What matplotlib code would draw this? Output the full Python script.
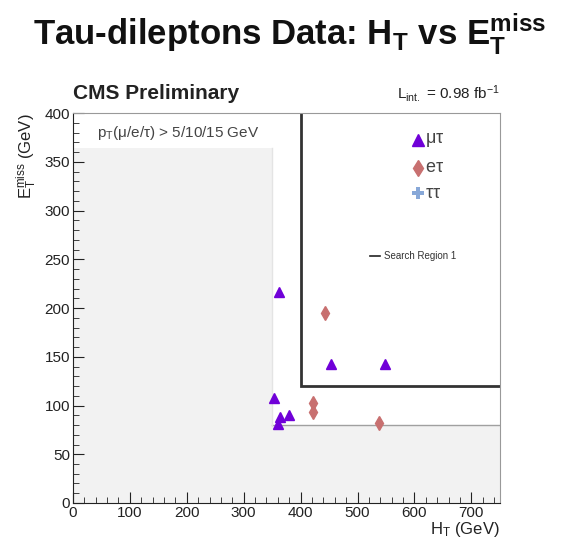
import matplotlib.pyplot as plt
from matplotlib.ticker import MultipleLocator

plt.rcParams['font.family'] = ['Liberation Sans', 'DejaVu Sans']
plt.rcParams['mathtext.fontset'] = 'custom'
plt.rcParams['mathtext.rm'] = 'Liberation Sans'
plt.rcParams['mathtext.it'] = 'Liberation Sans'
plt.rcParams['mathtext.bf'] = 'Liberation Sans:bold'

# mu-tau events (HT, MET) in GeV
mutau_ht = [362, 454, 549, 354, 380, 364, 360]
mutau_met = [216, 143, 143, 108, 90, 88, 81]
# e-tau events
etau_ht = [443, 421, 421, 537]
etau_met = [195, 103, 93, 82]

# preselection and search region
presel_ht, presel_met = 350, 80
sr_ht, sr_met = 400, 120
x_max, y_max = 750, 400

fig = plt.figure(figsize=(5.61, 5.44), dpi=100)
ax = fig.add_axes([0.130, 0.0754, 0.761, 0.7166])

# shaded region outside preselection
ax.fill_between([0, presel_ht], 0, 364, color='#f2f2f2', lw=0, zorder=0)
ax.fill_between([presel_ht, x_max], 0, presel_met, color='#f2f2f2', lw=0, zorder=0)
ax.plot([presel_ht, x_max], [presel_met, presel_met], color='#a0a0a0', lw=1, zorder=1)
ax.plot([presel_ht, presel_ht], [presel_met, 364], color='#e4e4e4', lw=1, zorder=1)

# search region 1
ax.plot([sr_ht, sr_ht, x_max], [y_max, sr_met, sr_met], color='#333333', lw=2, zorder=2,
        solid_joinstyle='miter')

ax.plot(mutau_ht, mutau_met, ls='none', marker='^', ms=7.5, color='#7000d8', zorder=4)
ax.plot(etau_ht, etau_met, ls='none', marker='d', ms=7.5, color='#c87070', zorder=4)

ax.set_xlim(0, x_max)
ax.set_ylim(0, y_max)
ax.xaxis.set_major_locator(MultipleLocator(100))
ax.xaxis.set_minor_locator(MultipleLocator(20))
ax.yaxis.set_major_locator(MultipleLocator(50))
ax.yaxis.set_minor_locator(MultipleLocator(10))
ax.tick_params(which='both', direction='in', top=False, right=False,
               labelsize=11, colors='#222222', pad=2)
ax.tick_params(which='major', length=8)
ax.tick_params(which='minor', length=4)
for s in ['top', 'right']:
    ax.spines[s].set_color('#999999')
ax.spines['left'].set_color('#222222')
ax.spines['bottom'].set_color('#222222')

ax.set_xlabel(r'$\mathrm{H_{T}}$ (GeV)', fontsize=12, color='#222222', loc='right', labelpad=0)
ax.set_ylabel(r'$\mathrm{E_{T}^{miss}}$ (GeV)', fontsize=12, color='#222222', loc='top', labelpad=4)

# legend
ax.plot([607], [372], ls='none', marker='^', ms=9, color='#7000d8')
ax.text(618, 372, r'$\mu\tau$', fontsize=13, color='#444444', va='center')
ax.plot([607], [344], ls='none', marker='d', ms=8, color='#c87070')
ax.text(618, 344, r'e$\tau$', fontsize=13, color='#444444', va='center')
ax.plot([607], [318], ls='none', marker='P', ms=8, color='#88a8d8', mew=0)
ax.text(618, 318, r'$\tau\tau$', fontsize=13, color='#444444', va='center')
ax.plot([522, 540], [253, 253], color='#222222', lw=1.2)
ax.text(547, 253, 'Search Region 1', fontsize=7, color='#333333', va='center')

ax.text(42, 380, r'p$_{\mathrm{T}}$($\mu$/e/$\tau$) > 5/10/15 GeV', fontsize=11,
        color='#444444', va='center')

fig.text(0.130, 0.818, 'CMS Preliminary', fontsize=15, fontweight='bold', color='#222222')
fig.text(0.891, 0.818, r'L$_{\mathrm{int.}}$ = 0.98 fb$^{\mathrm{-1}}$', fontsize=11,
         color='#222222', ha='right')
fig.text(0.517, 0.938, r'Tau-dileptons Data: $\mathbf{H_{T}}$ vs $\mathbf{E_{T}^{miss}}$',
         fontsize=25, fontweight='bold', ha='center', va='center', color='#111111')

fig.savefig('out.png', dpi=100)
